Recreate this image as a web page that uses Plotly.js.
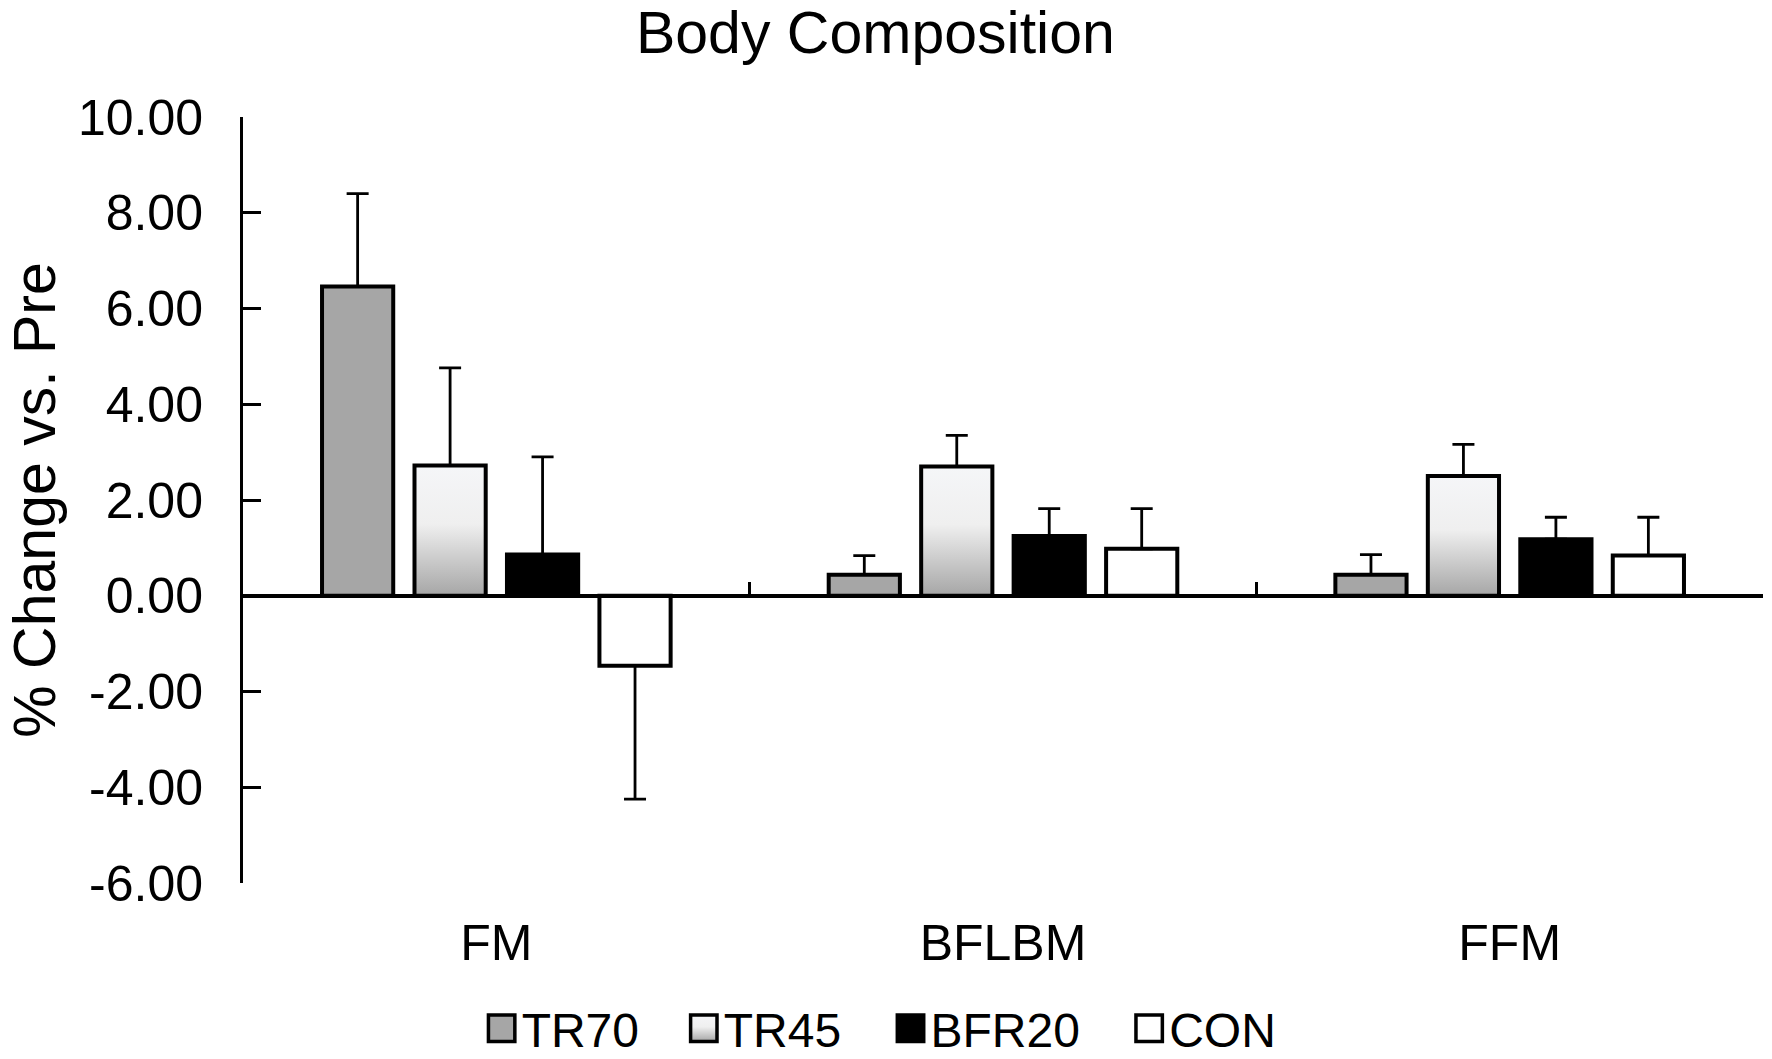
<!DOCTYPE html>
<html>
<head>
<meta charset="utf-8">
<script src="https://cdn.plot.ly/plotly-3.0.1.min.js"></script>
<style>
    html, body { margin: 0; padding: 0; background: #fff; }
    #chart { width: 1772px; height: 1059px; }
</style>
</head>
<body>
<div id="chart"></div>
<script>
// values (% change vs. pre)
const categories = ['FM', 'BFLBM', 'FFM'];
const groupNames = ['TR70', 'TR45', 'BFR20', 'CON'];

const tr70Values = [6.46, 0.44, 0.44];
const tr70Errors = [1.94, 0.40, 0.42];
const tr45Values = [2.72, 2.70, 2.50];
const tr45Errors = [2.04, 0.65, 0.66];
const bfr20Values = [0.86, 1.25, 1.18];
const bfr20Errors = [2.04, 0.57, 0.46];
const conValues = [-1.46, 0.98, 0.84];
const conErrors = [2.79, 0.84, 0.80];

const yTickVals = [-6, -4, -2, 0, 2, 4, 6, 8, 10];
const yTickText = ['-6.00', '-4.00', '-2.00', '0.00', '2.00', '4.00', '6.00', '8.00', '10.00'];
const categoryBoundaries = [-0.5, 0.5, 1.5, 2.5];

const FONT = 'Arial, "Liberation Sans", sans-serif';
const TR45_FILL = '#e4e4e4';

class BodyCompositionPlot {

    constructor(divID) {
        this.divID = divID;
        this.yRange = [-6, 10];
        // one legend per group so the entries sit where the original has them
        this.legendIds = ['legend', 'legend2', 'legend3', 'legend4'];
        this.legendX = [0.157, 0.290, 0.426, 0.583];

        this.data = [
            this.#bar(0, tr70Values, tr70Errors, '#a6a6a6'),
            this.#bar(1, tr45Values, tr45Errors, TR45_FILL),
            this.#bar(2, bfr20Values, bfr20Errors, '#000000'),
            this.#bar(3, conValues, conErrors, '#ffffff'),
            // empty trace so that the zero-line axis (x2) gets drawn
            {
                type: 'scatter',
                mode: 'markers',
                x: [],
                y: [],
                xaxis: 'x2',
                yaxis: 'y',
                showlegend: false,
                hoverinfo: 'skip',
            },
        ];

        this.layout = {
            width: 1772,
            height: 1059,
            paper_bgcolor: '#fff',
            plot_bgcolor: '#fff',
            font: {family: FONT, color: '#000'},
            margin: {l: 243, r: 9, t: 117, b: 176, autoexpand: false},
            barmode: 'group',
            bargap: 0.27,
            bargroupgap: 0.23,
            showlegend: true,
            title: {
                text: 'Body Composition',
                font: {size: 59, family: FONT, color: '#000'},
                xref: 'container',
                x: 0.494,
                yref: 'container',
                y: 0.969,
                yanchor: 'middle',
            },
            xaxis: {
                type: 'category',
                range: [-0.5, 2.5],
                showline: false,
                showgrid: false,
                zeroline: false,
                ticks: '',
                ticklabelstandoff: 26,
                tickfont: {size: 50, family: FONT, color: '#000'},
            },
            // line at y = 0 with the upward ticks between the groups
            xaxis2: {
                overlaying: 'x',
                anchor: 'free',
                position: (0 - this.yRange[0]) / (this.yRange[1] - this.yRange[0]),
                range: [-0.5, 2.5],
                tickmode: 'array',
                tickvals: categoryBoundaries,
                ticks: 'inside',
                ticklen: 13,
                tickwidth: 3,
                tickcolor: '#000',
                showticklabels: false,
                showline: true,
                linewidth: 3,
                linecolor: '#000',
                showgrid: false,
                zeroline: false,
            },
            yaxis: {
                range: this.yRange,
                tickmode: 'array',
                tickvals: yTickVals,
                ticktext: yTickText,
                ticks: 'inside',
                ticklen: 18,
                tickwidth: 3,
                tickcolor: '#000',
                showline: true,
                linewidth: 3,
                linecolor: '#000',
                showgrid: false,
                zeroline: true,
                zerolinecolor: '#000',
                zerolinewidth: 3,
                ticklabelstandoff: 27,
                tickfont: {size: 50, family: FONT, color: '#000'},
                title: {
                    text: '% Change vs. Pre',
                    font: {size: 59, family: FONT, color: '#000'},
                    standoff: 4,
                },
            },
        };

        this.legendIds.forEach((id, i) => {
            this.layout[id] = {
                orientation: 'h',
                x: this.legendX[i],
                xanchor: 'left',
                y: -0.19,
                yanchor: 'middle',
                font: {size: 48, family: FONT, color: '#000'},
                itemwidth: 30,
                bgcolor: 'rgba(0,0,0,0)',
            };
        });

        this.config = {
            responsive: false,
            editable: false,
            displaylogo: false,
            displayModeBar: false,
        };

        this.#plot();
    }

    #bar(idx, values, errors, fill) {
        // whiskers only go away from zero
        return {
            type: 'bar',
            name: groupNames[idx],
            legend: this.legendIds[idx],
            x: categories,
            y: values,
            marker: {color: fill, line: {color: '#000', width: 4}},
            error_y: {
                type: 'data',
                symmetric: false,
                array: values.map((v, i) => v >= 0 ? errors[i] : 0),
                arrayminus: values.map((v, i) => v < 0 ? errors[i] : 0),
                color: '#000',
                thickness: 2.8,
                width: 11,
            },
            hoverinfo: 'skip',
        };
    }

    #plot() {
        Plotly.newPlot(this.divID, this.data, this.layout, this.config)
            .then(gd => this.#restyleDom(gd));
    }

    // TR45 bars have a white-to-grey vertical gradient in the original,
    // and the legend swatches are bigger than plotly's 12px default
    #restyleDom(gd) {
        const ns = 'http://www.w3.org/2000/svg';
        const svg = gd.querySelector('svg.main-svg');
        let defs = svg.querySelector('defs');
        if (!defs) {
            defs = document.createElementNS(ns, 'defs');
            svg.insertBefore(defs, svg.firstChild);
        }
        const grad = document.createElementNS(ns, 'linearGradient');
        grad.setAttribute('id', 'tr45fill');
        grad.setAttribute('x1', '0');
        grad.setAttribute('y1', '0');
        grad.setAttribute('x2', '0');
        grad.setAttribute('y2', '1');
        [['0', '#f5f6f8'], ['0.45', '#efefef'], ['1', '#a6a6a6']].forEach(([off, col]) => {
            const stop = document.createElementNS(ns, 'stop');
            stop.setAttribute('offset', off);
            stop.setAttribute('stop-color', col);
            grad.appendChild(stop);
        });
        defs.appendChild(grad);

        const tr45Rgb = 'rgb(228, 228, 228)';

        gd.querySelectorAll('.barlayer .point path').forEach(p => {
            if (p.style.fill === tr45Rgb) p.style.fill = 'url(#tr45fill)';
        });

        gd.querySelectorAll('.infolayer .legendpoints path').forEach(p => {
            const t = p.getAttribute('transform') || '';
            p.setAttribute('transform', t + ' scale(2.2)');
            p.style.strokeWidth = '1.6px';
            if (p.style.fill === tr45Rgb) p.style.fill = 'url(#tr45fill)';
        });
    }
}

new BodyCompositionPlot('chart');
</script>
</body>
</html>
